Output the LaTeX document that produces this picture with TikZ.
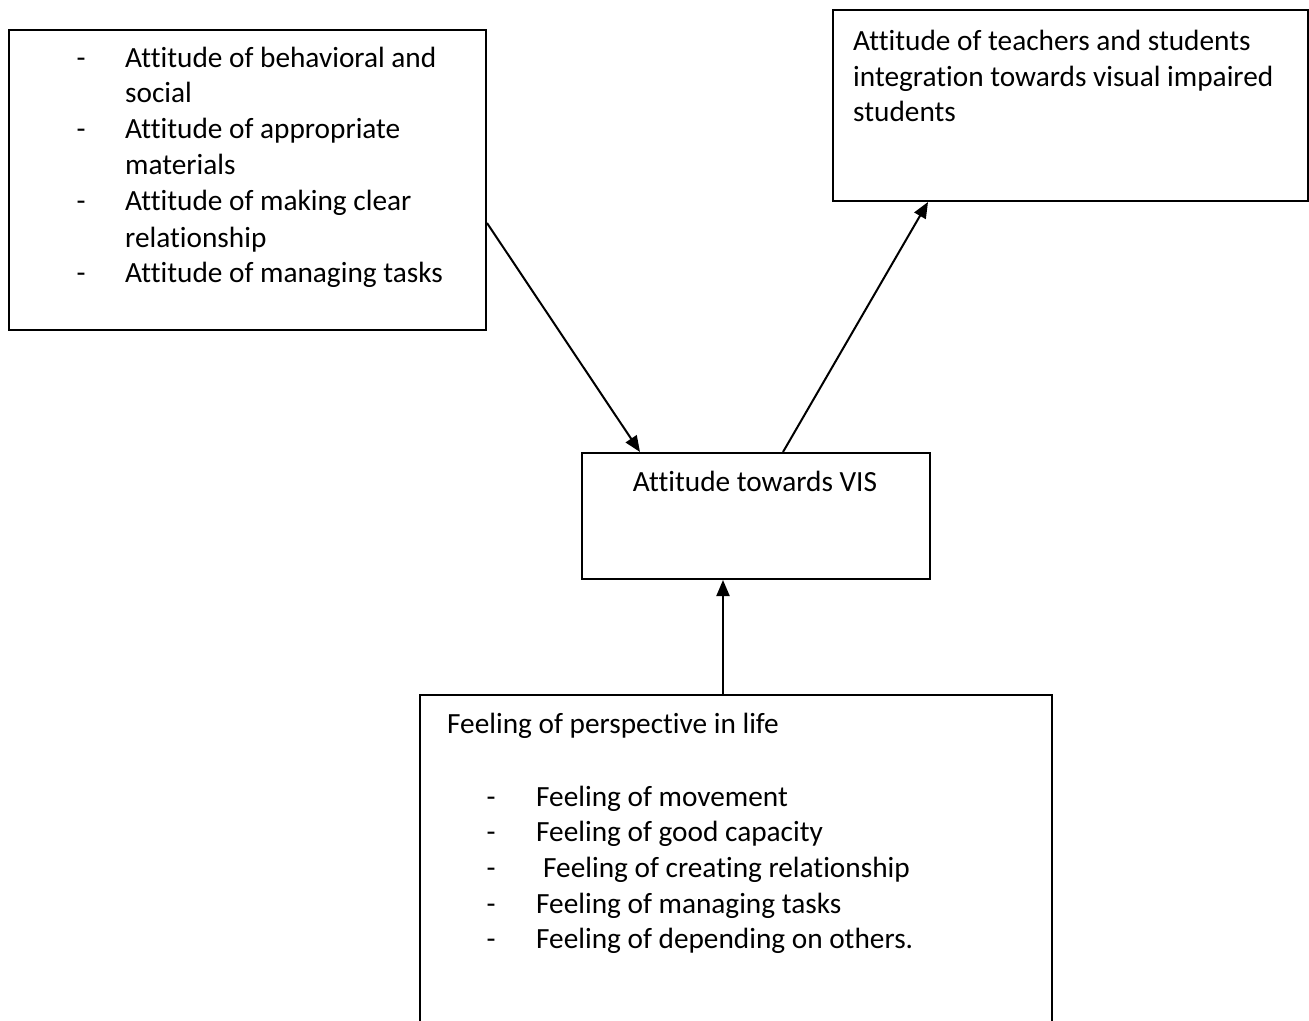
\documentclass[tikz,border=0pt]{standalone}
\usepackage{fontspec}
\setmainfont{Carlito}[Ligatures={NoCommon}]
\usetikzlibrary{calc,arrows.meta}
\begin{document}
\begin{tikzpicture}[x=1pt,y=-1pt,
  box/.style={draw=black,line width=2pt,rectangle,anchor=north west,inner sep=0pt},
  txt/.style={anchor=base west,inner sep=0pt,font=\fontsize{29.3}{35}\selectfont},
  dsh/.style={anchor=base,inner sep=0pt,font=\fontsize{29.3}{35}\selectfont},
  arr/.style={line width=2pt,-{Triangle[length=16pt,width=13pt]}}]
\useasboundingbox (0,0) rectangle (1309,1020);
% boxes
\node[box,minimum width=477pt,minimum height=300pt] (A) at (8,29) {};
\node[box,minimum width=475pt,minimum height=191pt] (B) at (832,9) {};
\node[box,minimum width=348pt,minimum height=126pt] (C) at (581,452) {};
\node[box,minimum width=632pt,minimum height=340pt] (D) at (419,694) {};
% box A text
\node[dsh] (da1) at (81,67) {-};
\node[txt] (ta1) at (125,67) {Attitude of behavioral and};
\node[txt] (ta1b) at (125,102) {social};
\node[dsh] (da2) at (81,138) {-};
\node[txt] (ta2) at (125,138) {Attitude of appropriate};
\node[txt] (ta2b) at (125,174) {materials};
\node[dsh] (da3) at (81,210) {-};
\node[txt] (ta3) at (125,210) {Attitude of making clear};
\node[txt] (ta3b) at (125,247) {relationship};
\node[dsh] (da4) at (81,282) {-};
\node[txt] (ta4) at (125,282) {Attitude of managing tasks};
% box B text
\node[txt] (tb1) at (853,50) {Attitude of teachers and students};
\node[txt] (tb2) at (853,86) {integration towards visual impaired};
\node[txt] (tb3) at (853,121) {students};
% box C text
\node[dsh] (tc1) at (755,491) {Attitude towards VIS};
% box D text
\node[txt] (td0) at (447,733) {Feeling of perspective in life};
\node[dsh] (dd1) at (491,806) {-};
\node[txt] (td1) at (536,806) {Feeling of movement};
\node[dsh] (dd2) at (491,841) {-};
\node[txt] (td2) at (536,841) {Feeling of good capacity};
\node[dsh] (dd3) at (491,877) {-};
\node[txt] (td3) at (543,877) {Feeling of creating relationship};
\node[dsh] (dd4) at (491,913) {-};
\node[txt] (td4) at (536,913) {Feeling of managing tasks};
\node[dsh] (dd5) at (491,948) {-};
\node[txt] (td5) at (536,948) {Feeling of depending on others.};
% connectors
\draw[arr] ($(A.north east)+(0,194)$) -- ($(C.north west)+(59,0)$);
\draw[arr] ($(C.north west)+(202,0)$) -- ($(B.south west)+(96,0)$);
\draw[arr] ($(D.north west)+(304,0)$) -- ($(C.south west)+(142,0)$);
\end{tikzpicture}
\end{document}
